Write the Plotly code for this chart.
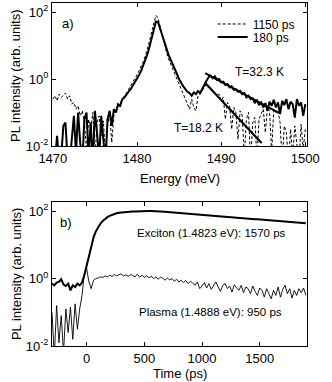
import numpy as np
import plotly.graph_objects as go
from plotly.subplots import make_subplots

# panel a: energy grid (meV) and log10 PL intensity
energy = np.arange(1470.0, 1500.01, 0.25)

log_180ps = [
    -2.5, -2.5, -1.7, -2.5, -2.3, -1.4, -1.3, -2.4, -2.5, -1.8,
    -1.1, -2.2, -1.0, -1.9, -2.5, -1.2, -1.0, -2.3, -1.3, -2.5,
    -0.95, -1.6, -2.4, -1.1, -1.8, -2.5, -1.2, -0.95, -1.4, -0.9,
    -1.0, -0.75, -0.8, -0.6, -0.55, -0.45, -0.38, -0.3, -0.2, -0.1,
    0.02, 0.12, 0.25, 0.4, 0.55, 0.75, 0.98, 1.25, 1.5, 1.72,
    1.7, 1.5, 1.25, 1.05, 0.88, 0.72, 0.58, 0.45, 0.3, 0.15,
    0.0, -0.12, -0.22, -0.3, -0.38, -0.42, -0.5, -0.4, -0.45, -0.36,
    -0.42, -0.3, -0.15, -0.05, 0.05, 0.1, 0.02, 0.08, -0.02, 0.0,
    -0.1, -0.08, -0.18, -0.15, -0.25, -0.22, -0.32, -0.3, -0.38, -0.35,
    -0.45, -0.42, -0.55, -0.5, -0.6, -0.58, -0.72, -0.62, -0.78, -0.7,
    -0.85, -0.72, -0.95, -0.68, -0.8, -0.62, -0.85, -0.7, -1.05, -0.65,
    -0.78, -0.6, -0.9, -0.68, -0.75, -1.15, -0.6, -0.8, -0.7, -1.1,
    -0.75,
]

log_1150ps = [
    -0.6, -0.5, -0.65, -0.45, -0.55, -0.48, -0.42, -0.6, -0.5, -0.75,
    -0.7, -0.9, -0.8, -1.1, -0.95, -1.3, -2.1, -1.2, -1.5, -1.0,
    -2.4, -1.3, -1.1, -1.7, -1.25, -2.2, -1.4, -1.0, -1.9, -1.1,
    -0.85, -0.9, -0.7, -0.65, -0.5, -0.42, -0.32, -0.22, -0.12, 0.0,
    0.12, 0.25, 0.38, 0.52, 0.7, 0.9, 1.15, 1.42, 1.7, 1.9,
    1.82, 1.55, 1.25, 1.0, 0.8, 0.6, 0.45, 0.3, 0.15, 0.0,
    -0.15, -0.28, -0.42, -0.55, -0.72, -0.9, -0.6, -0.85, -0.95, -0.5,
    -0.45, -0.35, -0.25, -0.15, -0.2, -0.25, -0.35, -0.4, -0.5, -0.45,
    -0.65, -0.55, -1.2, -0.7, -0.8, -1.5, -0.85, -1.0, -1.8, -0.95,
    -1.1, -2.3, -1.2, -1.0, -2.5, -1.3, -1.15, -2.4, -1.2, -1.05,
    -0.9, -1.6, -0.85, -0.95, -2.2, -0.9, -1.0, -0.95, -1.3, -2.5,
    -1.4, -1.6, -2.5, -1.5, -2.3, -1.4, -1.8, -2.5, -1.35, -2.1,
    -1.5,
]

# Boltzmann tail fits (end points)
fit_32_e = [1488.1, 1496.8]
fit_32_i = [1.5, 0.1]
fit_18_e = [1488.1, 1494.8]
fit_18_i = [0.76, 0.0123]

# panel b: time (ps) and log10 PL intensity
time = np.arange(-300, 1901, 20)

log_exciton = [
    -0.15, -0.2, -0.12, -0.1, -0.02, -0.18, -0.22, -0.15, -0.35, -0.2,
    -0.25, -0.15, -0.2, -0.12, 0.1, 0.38, 0.72, 1.0, 1.22, 1.4,
    1.53, 1.63, 1.71, 1.77, 1.82, 1.86, 1.89, 1.915, 1.935, 1.95,
    1.96, 1.968, 1.975, 1.98, 1.985, 1.99, 1.99, 1.995, 1.995, 2.0,
    2.0, 2.0, 2.0, 2.0, 2.0, 2.0, 1.995, 1.99, 1.985, 1.98,
    1.975, 1.97, 1.965, 1.96, 1.955, 1.95, 1.945, 1.94, 1.935, 1.93,
    1.925, 1.92, 1.914, 1.908, 1.902, 1.896, 1.89, 1.884, 1.878, 1.872,
    1.866, 1.86, 1.855, 1.85, 1.844, 1.838, 1.832, 1.826, 1.82, 1.814,
    1.808, 1.802, 1.797, 1.792, 1.786, 1.78, 1.774, 1.768, 1.762, 1.756,
    1.75, 1.745, 1.74, 1.734, 1.728, 1.722, 1.716, 1.71, 1.705, 1.7,
    1.694, 1.688, 1.682, 1.676, 1.67, 1.665, 1.66, 1.655, 1.65, 1.645,
    1.64,
]

log_plasma = [
    -1.0, -2.3, -0.8, -1.9, -1.1, -2.2, -0.9, -1.6, -0.85, -1.8,
    -0.75, -1.5, -0.9, -0.5, 0.15, 0.3, -0.1, -0.3, -0.05, 0.0,
    0.02, 0.05, 0.03, 0.08, 0.05, 0.1, 0.06, 0.12, 0.08, 0.1,
    0.14, 0.07, 0.11, 0.06, 0.12, 0.09, 0.05, 0.13, 0.04, 0.1,
    0.03, 0.08, 0.02, 0.07, 0.0, 0.05, -0.02, 0.04, 0.01, -0.05,
    0.02, -0.04, 0.0, -0.08, -0.02, -0.1, -0.05, -0.12, -0.06, -0.15,
    -0.08, -0.14, -0.2, -0.1, -0.3, -0.22, -0.12, -0.28, -0.15, -0.32,
    -0.2, -0.1, -0.25, -0.38, -0.2, -0.15, -0.3, -0.22, -0.4, -0.18,
    -0.28, -0.35, -0.2, -0.42, -0.25, -0.3, -0.45, -0.22, -0.38, -0.5,
    -0.28, -0.35, -0.55, -0.3, -0.45, -0.6, -0.35, -0.5, -0.25, -0.55,
    -0.32, -0.2, -0.45, -0.3, -0.58, -0.35, -0.5, -0.3, -0.42, -0.28,
    -0.5,
]

FONT = "Liberation Sans, Arial, sans-serif"

fig = make_subplots(rows=2, cols=1)

fig.add_trace(go.Scatter(x=energy, y=np.power(10.0, log_1150ps), mode="lines",
                         name="1150 ps", legend="legend",
                         line=dict(color="black", width=1, dash="3px,2px")),
              row=1, col=1)
fig.add_trace(go.Scatter(x=energy, y=np.power(10.0, log_180ps), mode="lines",
                         name="180 ps", legend="legend2",
                         line=dict(color="black", width=2)),
              row=1, col=1)
fig.add_trace(go.Scatter(x=fit_32_e, y=fit_32_i, mode="lines", showlegend=False,
                         line=dict(color="black", width=2)), row=1, col=1)
fig.add_trace(go.Scatter(x=fit_18_e, y=fit_18_i, mode="lines", showlegend=False,
                         line=dict(color="black", width=2)), row=1, col=1)

fig.add_trace(go.Scatter(x=time, y=np.power(10.0, log_exciton), mode="lines", showlegend=False,
                         line=dict(color="black", width=2)), row=2, col=1)
fig.add_trace(go.Scatter(x=time, y=np.power(10.0, log_plasma), mode="lines", showlegend=False,
                         line=dict(color="black", width=0.9)), row=2, col=1)

axis_style = dict(showline=True, linecolor="black", linewidth=1, mirror="ticks",
                  ticks="inside", ticklen=4, tickcolor="black", showgrid=False,
                  zeroline=False, automargin=False,
                  tickfont=dict(family=FONT, size=13, color="black"))
ytickvals = [0.01, 1, 100]
yticktext = ["10<sup>-2</sup>", "10<sup>0</sup>", "10<sup>2</sup>"]

fig.update_xaxes(axis_style)
fig.update_yaxes(axis_style)
fig.update_xaxes(range=[1469.9, 1500.2], tickvals=[1470, 1480, 1490, 1500], row=1, col=1)
fig.update_xaxes(range=[-300, 1910], tickvals=[0, 500, 1000, 1500], row=2, col=1)
fig.update_yaxes(type="log", range=[-2, 2.27], tickvals=ytickvals, ticktext=yticktext)
fig.update_layout(
    xaxis=dict(domain=[0, 1]), yaxis=dict(domain=[0.5831, 1]),
    xaxis2=dict(domain=[0, 1]), yaxis2=dict(domain=[0, 0.4198]),
)

def note(text, x, y, xref, yref, size=12, angle=0, xanchor="left"):
    fig.add_annotation(text=text, x=x, y=y, xref=xref, yref=yref, showarrow=False,
                       xanchor=xanchor, yanchor="middle", textangle=angle,
                       font=dict(family=FONT, size=size, color="black"))

note("a)", 0.031, 0.86, "x domain", "y domain", 13)
note("T=32.3 K", 0.71, 0.517, "x domain", "y domain")
note("T=18.2 K", 0.47, 0.126, "x domain", "y domain")
note("b)", 0.024, 0.861, "x2 domain", "y2 domain", 13)
note("Exciton (1.4823 eV): 1570 ps", 0.325, 0.785, "x2 domain", "y2 domain", 11.5)
note("Plasma (1.4888 eV): 950 ps", 0.333, 0.236, "x2 domain", "y2 domain", 11.5)
note("Energy (meV)", 0.5, -0.224, "x domain", "y domain", 13, xanchor="center")
note("Time (ps)", 0.5, -0.194, "x2 domain", "y2 domain", 13, xanchor="center")
note("PL intensity (arb. units)", -0.141, 0.49, "x domain", "y domain", 13, -90, "center")
note("PL intensity (arb. units)", -0.141, 0.5, "x2 domain", "y2 domain", 13, -90, "center")

leg = dict(xanchor="left", yanchor="middle", bgcolor="rgba(0,0,0,0)",
           font=dict(family=FONT, size=12, color="black"), itemwidth=30)

fig.update_layout(
    template="none",
    width=332, height=382,
    margin=dict(l=52, r=25, t=3, b=36),
    paper_bgcolor="white", plot_bgcolor="white",
    font=dict(family=FONT, size=12, color="black"),
    showlegend=True,
    legend=dict(leg, x=0.63, y=0.9388),
    legend2=dict(leg, x=0.63, y=0.9009),
)

# the page body has a default 8px margin; drop it so the figure sits flush
fig.write_html("out.html", config={"displayModeBar": False},
               post_script="document.body.style.margin = '0px';")
